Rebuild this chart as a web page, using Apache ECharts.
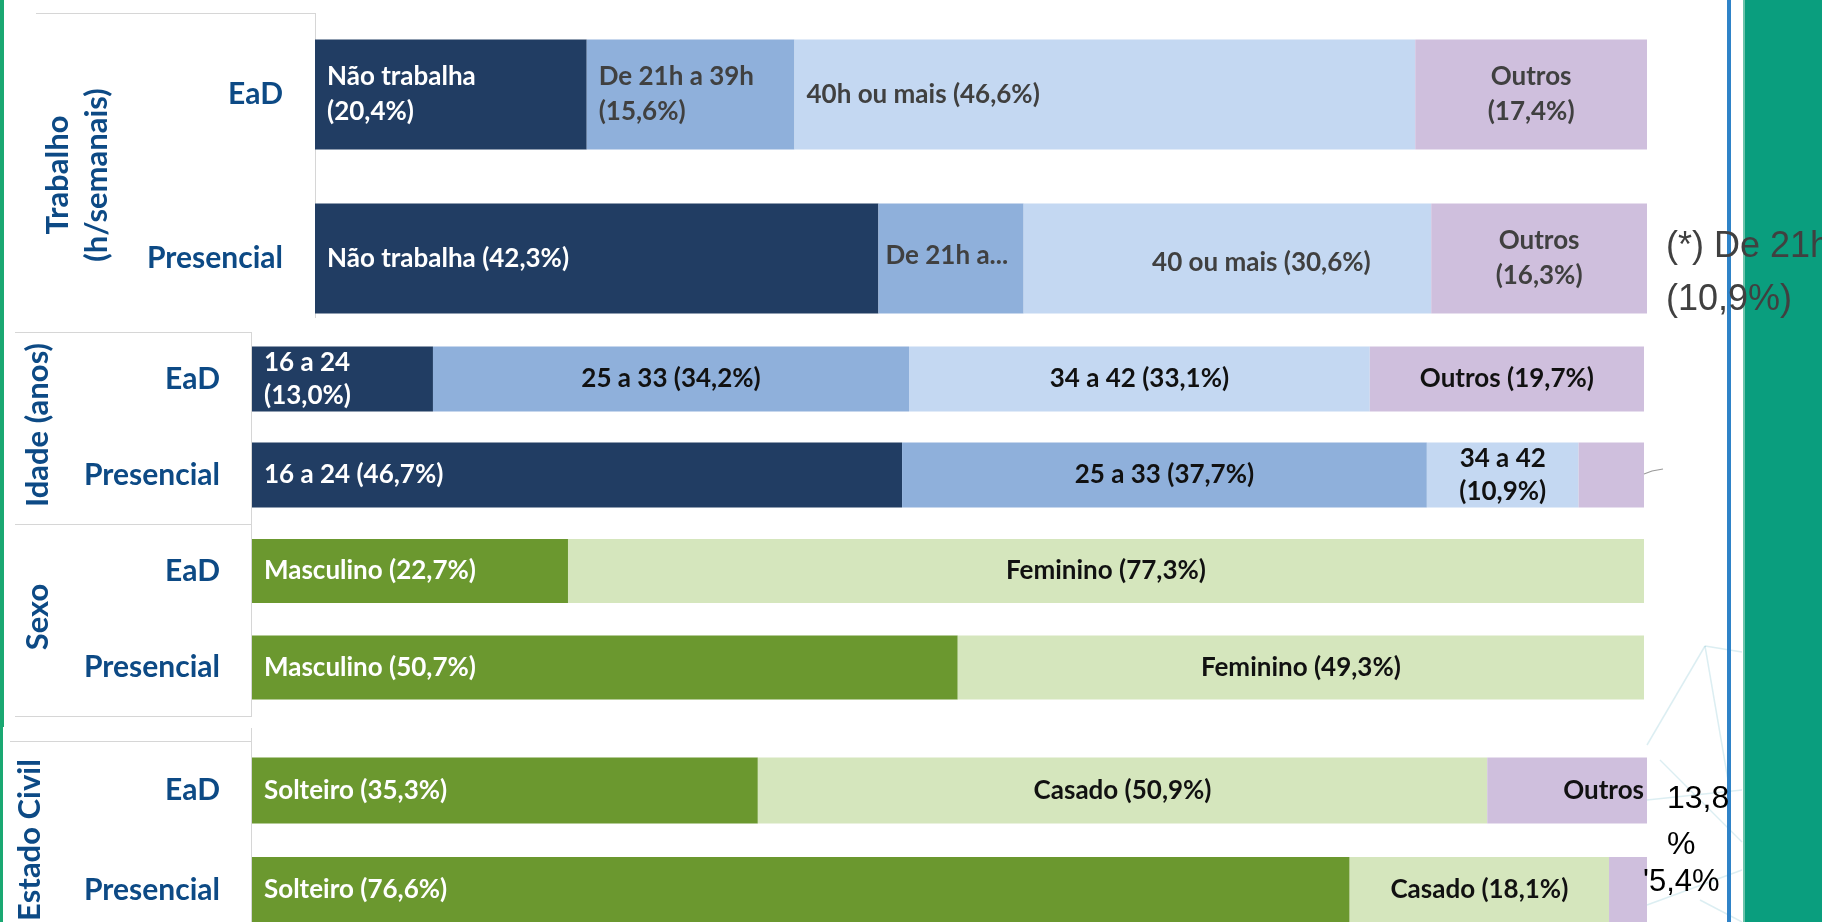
<!DOCTYPE html>
<html>
<head>
<meta charset="utf-8">
<script src="https://cdn.jsdelivr.net/npm/echarts@6/dist/echarts.min.js"></script>
<style>
html,body{margin:0;padding:0;background:#fff;}
#chart{width:1822px;height:922px;}
</style>
</head>
<body>
<div id="chart"></div>
<script>
// ---------- DATA ----------
const rowLabels = ['EaD', 'Presencial'];
const sectionTitles = ['Trabalho\n(h/semanais)', 'Idade (anos)', 'Sexo', 'Estado Civil'];

const trabalhoEaD = [20.4, 15.6, 46.6, 17.4];
const trabalhoPresencial = [42.3, 10.9, 30.6, 16.3];
const trabalhoTextEaD = ['Não trabalha\n(20,4%)', 'De 21h a 39h\n(15,6%)', '40h ou mais (46,6%)', 'Outros\n(17,4%)'];
const trabalhoTextPresencial = ['Não trabalha (42,3%)', 'De 21h a...', '40 ou mais (30,6%)', 'Outros\n(16,3%)'];

const idadeEaD = [13.0, 34.2, 33.1, 19.7];
const idadePresencial = [46.7, 37.7, 10.9, 4.7];
const idadeTextEaD = ['16 a 24\n(13,0%)', '25 a 33 (34,2%)', '34 a 42 (33,1%)', 'Outros (19,7%)'];
const idadeTextPresencial = ['16 a 24 (46,7%)', '25 a 33 (37,7%)', '34 a 42\n(10,9%)', ''];

const sexoEaD = [22.7, 77.3];
const sexoPresencial = [50.7, 49.3];
const sexoTextEaD = ['Masculino (22,7%)', 'Feminino (77,3%)'];
const sexoTextPresencial = ['Masculino (50,7%)', 'Feminino (49,3%)'];

const estadoEaD = [35.3, 50.9, 13.8];
const estadoPresencial = [76.6, 18.1, 5.4];
const estadoTextEaD = ['Solteiro (35,3%)', 'Casado (50,9%)', 'Outros'];
const estadoTextPresencial = ['Solteiro (76,6%)', 'Casado (18,1%)', '\'5,4%'];

const footnoteText = '(*) De 21h\n(10,9%)';
const overflowText = '13,8\n%';

// ---------- STYLE / LAYOUT ----------
const NAVY = '#213d63', MID = '#8fb0db', LIGHT = '#c4d8f2', LAV = '#cfbfdd', GREEN = '#6b982f', LGREEN = '#d5e6bd';
const AXIS_BLUE = '#0d4a85';
const FONT = 'Lato';

const sections = [
  { ead: trabalhoEaD, pres: trabalhoPresencial, tEad: trabalhoTextEaD, tPres: trabalhoTextPresencial, colors: [NAVY, MID, LIGHT, LAV] },
  { ead: idadeEaD, pres: idadePresencial, tEad: idadeTextEaD, tPres: idadeTextPresencial, colors: [NAVY, MID, LIGHT, LAV] },
  { ead: sexoEaD, pres: sexoPresencial, tEad: sexoTextEaD, tPres: sexoTextPresencial, colors: [GREEN, LGREEN] },
  { ead: estadoEaD, pres: estadoPresencial, tEad: estadoTextEaD, tPres: estadoTextPresencial, colors: [GREEN, LGREEN, LAV] }
];

const layout = [
  { left: 315, top: 12.5, width: 1332, height: 328, barWidth: 110, max: 100 },
  { left: 252, top: 331, width: 1392, height: 192, barWidth: 65, max: 100 },
  { left: 252, top: 522.75, width: 1392, height: 193, barWidth: 64, max: 100 },
  { left: 252, top: 740.75, width: 1395, height: 199, barWidth: 66, max: 97.35 }
];

function labelStyle(s, r, i, color, text) {
  const dark = (color === NAVY || color === GREEN);
  const lab = {
    show: text !== '',
    formatter: text,
    fontFamily: FONT, fontWeight: 'bold', fontSize: 26,
    lineHeight: s === 0 ? 35 : 33,
    color: dark ? '#ffffff' : (s === 0 ? '#404040' : '#111111'),
    position: i === 0 ? 'insideLeft' : 'inside',
    distance: 12,
    offset: [0, 0]
  };
  if (s === 0 && (i === 1 || (r === 0 && i === 2))) lab.position = 'insideLeft';
  if (s === 0 && r === 1 && i === 1) { lab.distance = 7; lab.offset = [0, -3]; }
  if (s === 0 && r === 1 && i === 2) lab.offset = [34, 4];
  if (s === 3 && r === 0 && i === 2) { lab.position = 'insideRight'; lab.distance = 3; }
  if (s === 3 && r === 1 && i === 2) {
    lab.position = 'right'; lab.distance = -4; lab.offset = [0, -8];
    lab.fontFamily = 'Liberation Sans'; lab.fontWeight = 'normal'; lab.fontSize = 31; lab.color = '#000000';
  }
  return lab;
}

const grid = [], xAxis = [], yAxis = [], series = [];
sections.forEach((sec, s) => {
  const L = layout[s];
  grid.push({ left: L.left, top: L.top, width: L.width, height: L.height, containLabel: false, outerBoundsMode: 'none' });
  xAxis.push({ type: 'value', gridIndex: s, min: 0, max: L.max, show: false });
  yAxis.push({
    type: 'category', gridIndex: s, data: rowLabels, inverse: true,
    axisLine: { show: false }, axisTick: { show: false }, splitLine: { show: false },
    axisLabel: { margin: 32, fontFamily: FONT, fontWeight: 'bold', fontSize: 30, color: AXIS_BLUE }
  });
  sec.colors.forEach((c, i) => {
    series.push({
      type: 'bar', stack: 'st' + s, xAxisIndex: s, yAxisIndex: s,
      barWidth: L.barWidth, clip: true, silent: true, animation: false,
      itemStyle: { color: c },
      data: [
        { value: sec.ead[i], label: labelStyle(s, 0, i, c, sec.tEad[i]) },
        { value: sec.pres[i], label: labelStyle(s, 1, i, c, sec.tPres[i]) }
      ]
    });
  });
});

const LINE = '#d6d6d6';
function hline(x1, x2, y) { return { type: 'line', shape: { x1, y1: y, x2, y2: y }, style: { stroke: LINE, lineWidth: 1 }, z: 1 }; }
function vline(x, y1, y2) { return { type: 'line', shape: { x1: x, y1, x2: x, y2 }, style: { stroke: LINE, lineWidth: 1 }, z: 1 }; }
function net(x1, y1, x2, y2) { return { type: 'line', shape: { x1, y1, x2, y2 }, style: { stroke: 'rgba(130,195,210,0.28)', lineWidth: 1.5 }, z: 0 }; }

const titlePos = [[77.5, 175], [38, 425], [38, 617], [30, 840]];

const graphic = [
  // left green strip
  { type: 'rect', shape: { x: 0, y: 0, width: 4, height: 727 }, style: { fill: '#1aa872' }, z: 1 },
  { type: 'rect', shape: { x: 0, y: 727, width: 3, height: 195 }, style: { fill: '#1aa872' }, z: 1 },
  // table lines
  hline(36, 315, 13.5), vline(315.5, 13, 318),
  hline(15, 251, 332.5), vline(251.5, 332, 717), hline(15, 251, 524.5), hline(15, 251, 716.5),
  hline(10, 251, 741.5), vline(251.5, 728, 922),
  // faint network decoration
  net(1705, 646, 1647, 745), net(1705, 646, 1742, 652), net(1705, 646, 1728, 780),
  net(1647, 800, 1742, 790), net(1660, 760, 1742, 842), net(1647, 905, 1742, 870),
  net(1700, 900, 1742, 922),
  // right blue line and green panel
  { type: 'rect', shape: { x: 1727, y: 0, width: 4, height: 922 }, style: { fill: '#2f83c8' }, z: 5 },
  { type: 'rect', shape: { x: 1743, y: 0, width: 79, height: 922 }, style: { fill: '#0a9e7e' }, z: 5 },
  { type: 'rect', shape: { x: 1743, y: 0, width: 2, height: 922 }, style: { fill: '#6cc4ab' }, z: 5 },
  // leader line
  { type: 'polyline', shape: { points: [[1644, 474], [1652, 471], [1663, 469]] }, style: { stroke: '#9a9a9a', lineWidth: 1.2, fill: null }, z: 6 },
  // annotations
  { type: 'text', x: 1666, y: 221, z: 10, style: { text: footnoteText, fontFamily: 'Liberation Sans', fontSize: 36, lineHeight: 53, fill: '#404040', align: 'left', verticalAlign: 'top' } },
  { type: 'text', x: 1667, y: 776, z: 10, style: { text: overflowText, fontFamily: 'Liberation Sans', fontSize: 32, lineHeight: 46, fill: '#000000', align: 'left', verticalAlign: 'top' } }
];
sectionTitles.forEach((t, k) => {
  graphic.push({
    type: 'text', x: titlePos[k][0], y: titlePos[k][1], rotation: Math.PI / 2, z: 10,
    style: { text: t, fontFamily: FONT, fontWeight: 'bold', fontSize: 31, lineHeight: 39, fill: AXIS_BLUE, align: 'center', verticalAlign: 'middle' }
  });
});

const chart = echarts.init(document.getElementById('chart'), null, { renderer: 'canvas' });
chart.setOption({
  backgroundColor: '#ffffff',
  animation: false,
  grid, xAxis, yAxis, series, graphic
});
</script>
</body>
</html>
